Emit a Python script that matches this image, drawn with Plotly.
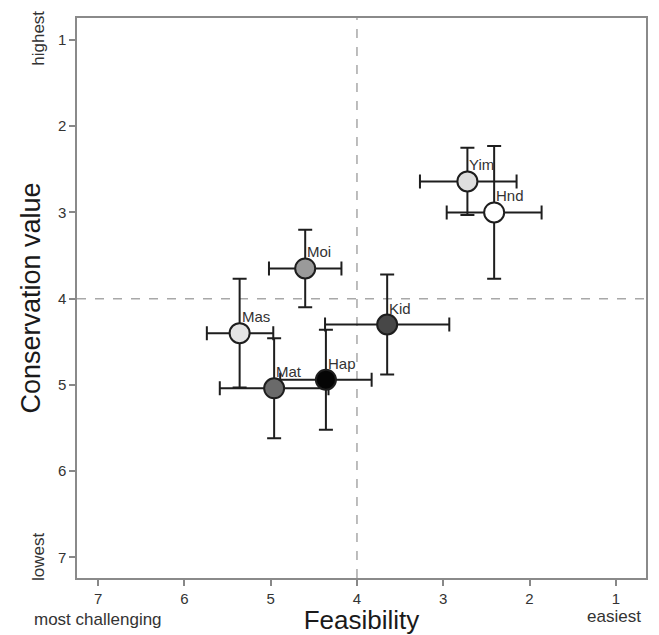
import plotly.graph_objects as go

names = ["Yim", "Hnd", "Moi", "Mas", "Mat", "Hap", "Kid"]
feasibility = [2.72, 2.41, 4.60, 5.36, 4.96, 4.36, 3.65]
feas_err_plus = [0.55, 0.55, 0.42, 0.38, 0.63, 0.53, 0.72]
feas_err_minus = [0.57, 0.55, 0.42, 0.39, 0.63, 0.53, 0.72]
conservation = [2.64, 3.00, 3.65, 4.40, 5.04, 4.94, 4.30]
cons_err_plus = [0.39, 0.77, 0.45, 0.63, 0.58, 0.58, 0.58]
cons_err_minus = [0.39, 0.77, 0.45, 0.63, 0.58, 0.58, 0.58]
fill_colors = ["#dedede", "#ffffff", "#9a9a9a", "#e4e4e4", "#6a6a6a", "#050505", "#474747"]
tick_vals = [1, 2, 3, 4, 5, 6, 7]

FONT = "Liberation Sans, Arial, sans-serif"
INK = "#1e1e1e"

fig = go.Figure()

# reference lines
fig.add_shape(type="line", xref="x", yref="paper", x0=4, x1=4, y0=0, y1=1,
              line=dict(color="#a8a8a8", width=1.5, dash="dash"), layer="below")
fig.add_shape(type="line", xref="paper", yref="y", x0=0, x1=1, y0=4, y1=4,
              line=dict(color="#a8a8a8", width=1.5, dash="dash"), layer="below")

# error bars
fig.add_trace(go.Scatter(
    x=feasibility, y=conservation, mode="markers",
    marker=dict(size=1, opacity=0),
    error_x=dict(type="data", symmetric=False, array=feas_err_plus, arrayminus=feas_err_minus,
                 color=INK, thickness=2, width=7),
    error_y=dict(type="data", symmetric=False, array=cons_err_plus, arrayminus=cons_err_minus,
                 color=INK, thickness=2, width=7),
    hoverinfo="skip", showlegend=False,
))

# markers
fig.add_trace(go.Scatter(
    x=feasibility, y=conservation, mode="markers",
    marker=dict(size=20, color=fill_colors, line=dict(color=INK, width=2)),
    showlegend=False,
))

for n, fx, cy in zip(names, feasibility, conservation):
    fig.add_annotation(x=fx, y=cy, text=n, showarrow=False, xanchor="left", yanchor="bottom",
                       xshift=0, yshift=6, font=dict(family=FONT, size=15, color="#333333"))

# corner labels
fig.add_annotation(xref="paper", yref="y", x=-0.0703, y=0.98, xshift=-10, text="highest", textangle=-90,
                   showarrow=False, font=dict(family=FONT, size=17, color="#333333"))
fig.add_annotation(xref="paper", yref="y", x=-0.0703, y=6.99, xshift=-10, text="lowest", textangle=-90,
                   showarrow=False, font=dict(family=FONT, size=17, color="#333333"))
fig.add_annotation(xref="x", yref="paper", x=7.0, y=-0.0735, text="most challenging",
                   showarrow=False, yanchor="middle", font=dict(family=FONT, size=17, color="#333333"))
fig.add_annotation(xref="x", yref="paper", x=1.02, y=-0.068, text="easiest",
                   showarrow=False, yanchor="middle", font=dict(family=FONT, size=17, color="#333333"))

axis_common = dict(
    tickvals=tick_vals, ticks="outside", ticklen=6, tickwidth=1.5, tickcolor="#888888",
    showline=True, linecolor="#8a8a8a", linewidth=1.5, mirror=True,
    showgrid=False, zeroline=False,
    tickfont=dict(family=FONT, size=15, color="#333333"),
)

# page body has an 8px default margin, so the figure is sized to end at the window edge
fig.update_layout(
    width=651, height=627,
    margin=dict(l=69, r=13, t=10, b=57, autoexpand=False),
    paper_bgcolor="white", plot_bgcolor="white",
    xaxis=dict(range=[7.245, 0.65], title=dict(text="Feasibility", standoff=8,
               font=dict(family=FONT, size=26, color="#1a1a1a")), **axis_common),
    yaxis=dict(range=[7.24, 0.745], title=dict(text="Conservation value", standoff=9,
               font=dict(family=FONT, size=27, color="#1a1a1a")), **axis_common),
)

fig.write_html("out.html")
